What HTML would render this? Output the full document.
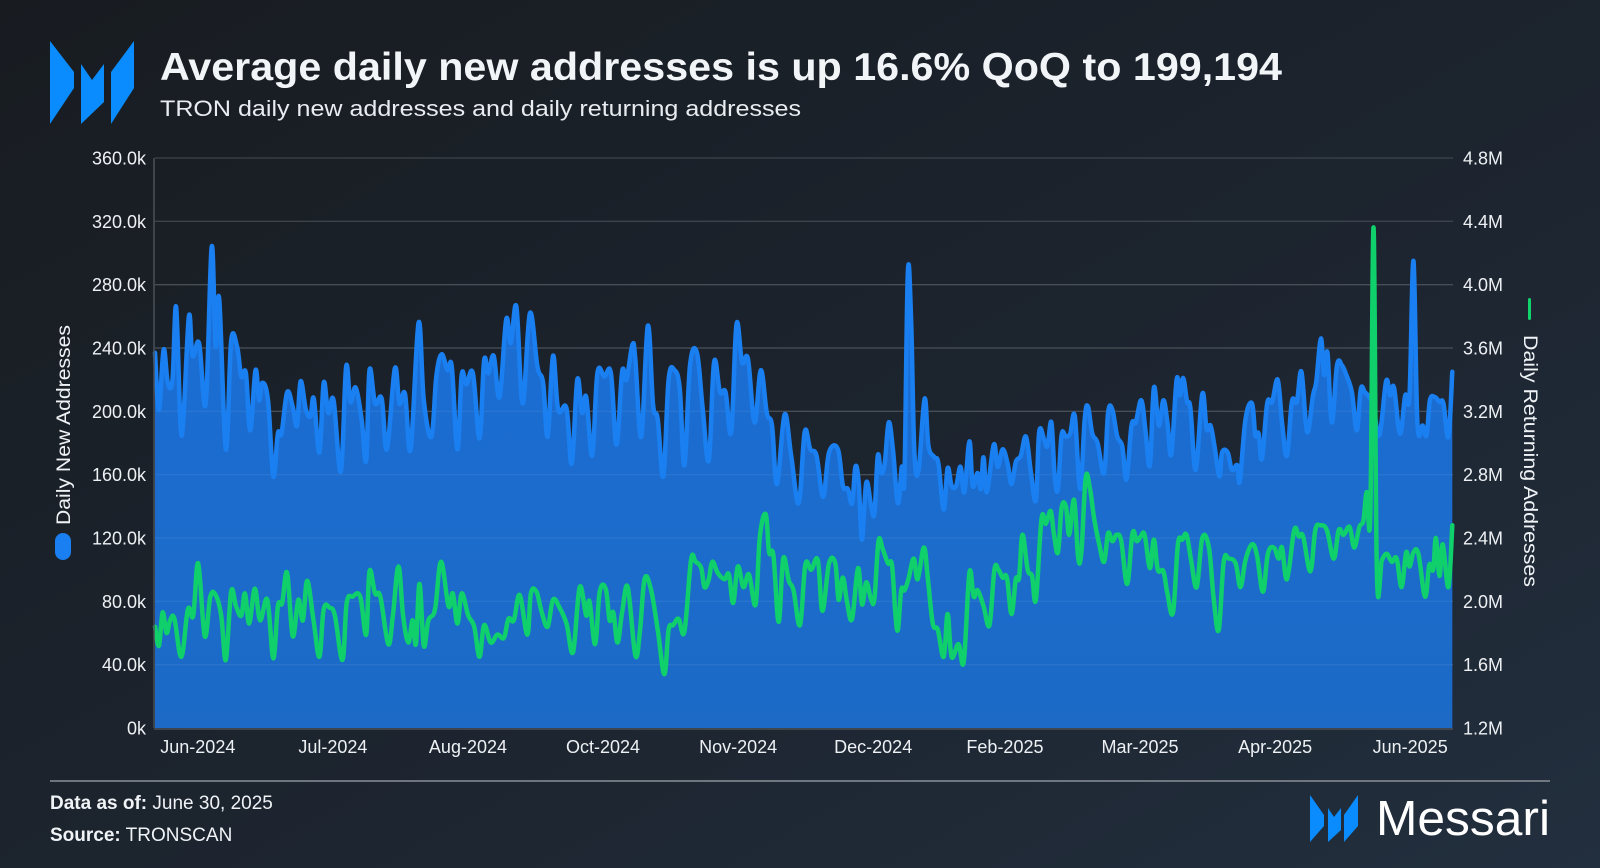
<!DOCTYPE html>
<html><head><meta charset="utf-8"><style>
html,body{margin:0;padding:0;width:1600px;height:868px;overflow:hidden;background:#1a1e24}
svg{display:block}
text{font-family:"Liberation Sans",sans-serif}
</style></head><body>
<svg id="chart" width="1600" height="868" viewBox="0 0 1600 868" xmlns="http://www.w3.org/2000/svg">
<defs>
<linearGradient id="bg" x1="0" y1="0" x2="1" y2="1"><stop offset="0" stop-color="#181c21"/><stop offset="0.6" stop-color="#1d2530"/><stop offset="1" stop-color="#222f3e"/></linearGradient>
<linearGradient id="fillg" x1="0" y1="0" x2="0" y2="1"><stop offset="0" stop-color="#1b6ed6"/><stop offset="1" stop-color="#1c6ac6"/></linearGradient>
</defs>
<rect width="1600" height="868" fill="url(#bg)"/>
<g fill="#0a8cff">
<polygon points="50,41 74,72 74,88 50,124"/>
<polygon points="81,64 92,80 104,64 104,102 81,124"/>
<polygon points="134,41 134,88 111,124 111,72"/>
</g>
<text x="160" y="80" font-size="39" font-weight="bold" fill="#f2f5f8" textLength="1122" lengthAdjust="spacingAndGlyphs">Average daily new addresses is up 16.6% QoQ to 199,194</text>
<text x="160" y="116" font-size="22.5" fill="#e8ecf0" textLength="641" lengthAdjust="spacingAndGlyphs">TRON daily new addresses and daily returning addresses</text>
<g id="grid"></g>
<g id="plot"></g>
<g id="axes"></g>
<g>
<text transform="translate(70,425) rotate(-90)" text-anchor="middle" font-size="19" fill="#f0f3f6" textLength="200" lengthAdjust="spacingAndGlyphs">Daily New Addresses</text>
<rect x="55" y="533" width="16" height="27" rx="8" fill="#1a7ff0"/>
</g>
<g>
<rect x="1528" y="298" width="3" height="22" rx="1.5" fill="#11d36b"/>
<text transform="translate(1524,461) rotate(90)" text-anchor="middle" font-size="19" fill="#f0f3f6" textLength="252" lengthAdjust="spacingAndGlyphs">Daily Returning Addresses</text>
</g>
<line x1="50" y1="781" x2="1550" y2="781" stroke="#8a9098" stroke-width="1.5"/>
<text x="50" y="809" font-size="19" fill="#f0f3f6"><tspan font-weight="bold">Data as of:</tspan> June 30, 2025</text>
<text x="50" y="841" font-size="19" fill="#f0f3f6"><tspan font-weight="bold">Source:</tspan> TRONSCAN</text>
<g>
<g fill="#0a8cff">
<polygon points="1310,795 1324,815 1324,826 1310,842"/>
<polygon points="1328,808 1334,817 1341,808 1341,830 1328,842"/>
<polygon points="1358,795 1358,826 1344,842 1344,815"/>
</g>
<text x="1376" y="835" font-size="49" fill="#ffffff" textLength="174" lengthAdjust="spacingAndGlyphs">Messari</text>
</g>
</svg>
<script>
const blueDays=[0,1.2,2.6,3.9,5.3,6.4,7.7,8.6,10.3,11.4,13.4,15.4,17.2,18.4,19.5,21.5,23.1,24.9,26.2,27.6,28.9,30.5,31.6,32.6,34.3,35.9,37.3,38.4,40.1,41.8,43.1,44.2,45.8,47.2,48.2,49.9,51.2,52.6,54.2,56.4,58,59.3,60.9,62.7,64.1,65.1,66.8,68.8,70.4,72.8,74.2,75.9,77.6,80,81.6,83.9,85.4,87,88.8,90.1,91.8,93.1,94.5,96.5,98.5,99.9,101.2,102.8,104.6,106.6,108,109.7,111.6,113.8,116.1,117.8,119.2,120.8,122.4,124.9,126.5,128.2,129.6,130.9,132.7,134.3,136.4,138.4,140.1,141.8,143.1,144.9,145.8,147.6,149.6,151.2,152.6,154.3,155.9,157.7,159.3,160.7,162.4,164.5,166.2,168.1,169.7,171.5,173.2,174.9,176.5,178.2,180,182,183.9,185.7,187.3,188.8,191.1,193.1,195.4,197.2,198.9,200.8,202.8,204.6,
207.3,208.8,210.3,211.6,212.6,213.6,214.6,215.9,217.4,218.4,219.4,220.4,221.5,222.7,224,225.5,226.7,227.5,228.5,229.5,230.5,231.8,233.6,234.8,236.6,237.8,239.4,240.6,241.8,243.2,244.5,245.7,247.2,248.2,249.7,250.7,251.5,252.5,254.6,255.8,257.3,258.8,260,261.3,262.8,264.4,265.9,267.4,268.4,269.9,270.9,272.1,273.1,274.1,275.2,276.5,277.8,279.2,280.8,282.2,283.2,284.5,286.1,288.1,289.3,290.6,292.1,293.6,294.9,296.4,297.7,
299.4,300.7,302,303.2,304.7,306.1,307.3,308.5,310.1,311.1,312.1,313.3,314.3,315.9,317.9,319.2,320.4,321.6,323.1,323.9,325.6,326.9,328.5,329.3,331,333,334,335,336,337.6,339.1,340.8,342.1,343.6,345.1,346.6,348,349.7,351.5,352.5,353.9,354.9,355.9,357.2,358.8,360.3,361.6,363.3,364.8,366,367.3,368.9,369.9,371.7,373.7,374.9,376.1,377.9,379.5,380.8,382,383.2,384.8,386,387,388.5,389.9,391.1,392.6,393.8];
const blueValues=[237,201,239,218,220,266,193,195,260,235,243,205,304,241,271,176,244,241,222,224,188,226,207,218,207,159,186,186,212,203,191,219,201,197,208,174,218,199,207,162,228,206,215,195,169,226,205,208,176,227,205,211,176,256,207,184,222,236,226,228,176,223,217,224,183,232,224,235,209,258,243,266,205,262,228,218,184,235,201,202,167,220,199,209,172,224,222,224,179,225,220,242,233,184,254,204,195,159,220,226,214,166,229,237,203,169,231,212,212,187,255,231,233,193,226,199,191,154,198,172,142,187,176,172,146,174,
176,153,151,142,165,155,119,155,140,136,172,161,167,193,176,142,165,159,287,258,174,163,208,178,171,167,138,164,153,153,165,149,181,153,161,151,171,149,179,165,176,167,154,168,172,184,161,144,187,182,178,193,159,151,185,184,186,197,151,195,203,186,180,161,199,201,184,178,157,191,193,
207,187,166,215,191,207,193,173,220,210,221,206,202,163,211,189,191,178,159,174,174,163,166,156,195,205,185,186,170,205,206,220,193,172,206,206,225,187,210,219,246,223,237,193,229,229,223,212,188,214,212,208,202,185,219,210,215,186,210,210,295,193,191,185,207,209,206,205,184,225];
const greenDays=[0,1.2,2.3,3.5,4.6,5.9,8,10,11.6,13.1,15.1,16.8,18.4,20.1,21.5,23.1,24.6,26.2,27.3,28.6,30.3,31.9,34.1,35.9,37.3,38.6,40.1,41.8,43.5,44.9,46.2,48.1,49.9,51.2,53,54.6,56.9,58.2,60,62.3,64.1,65.1,66.8,68.4,70.8,72.2,73.9,75.3,76.9,78.2,79.2,80.3,81.6,83,85,86.8,89.1,90.4,91.8,93.1,95.1,96.9,98.5,99.9,101.9,103.9,105.9,107.3,108.9,110.7,113,114.1,115.8,117.4,119.2,120.8,122.8,124.9,126.9,128.9,130.9,131.9,133.6,135,136.8,138,139.1,140.4,141.8,143.5,145.8,147.2,148.6,150.5,152.6,154.6,155.9,157.3,158.9,160.7,162.7,164.1,165.8,166.8,168.1,169.2,170.8,172.8,174.2,175.5,176.9,178.6,180.3,182.3,183.6,185.4,186.4,187.7,189.3,190.7,192.4,193.8,195.8,197.4,199.2,201.2,202.6,204.6,
206.5,207.5,208.8,210.1,211.6,213.4,214.6,215.9,217.4,218.4,219.6,220.9,222.5,223.7,224.7,225.5,226.5,227.5,228.7,230.3,231.5,233.4,234.6,236.1,237.6,239.4,240.6,241.8,243.9,245.5,247.2,248.5,249.7,251.5,253.3,254.8,256,257.3,258.6,260,261.3,262.3,263.3,264.9,266.2,267.4,269.1,270.4,271.9,272.9,274.1,275.2,276.5,277.5,279,280.2,281.2,282.5,283.8,285.1,286.6,288.1,289.3,290.6,291.9,293.3,295.1,296.7,298,
299.2,300.4,302,303.2,304.4,306.1,307.3,309,310.5,311.8,313.1,314.5,316.2,317.9,319.9,321.4,322.9,324.4,325.9,328,329.5,331,333,334.5,336.3,337.8,339.6,341.1,342.1,343.6,345.8,347.2,348.5,350.7,352.2,353.7,355.7,357.8,359.3,360.8,362.6,364,365.6,366.8,367.8,368.9,369.9,370.9,372.4,373.9,375.4,376.9,378.4,379.8,380.8,382,383.5,385.5,386.8,388,388.8,389.9,390.9,392.6,393.8];
const greenValues=[1.84,1.72,1.93,1.80,1.88,1.89,1.65,1.95,1.91,2.24,1.78,2.03,2.04,1.91,1.63,2.06,1.97,1.91,2.05,1.86,2.08,1.88,2.01,1.64,1.97,1.99,2.18,1.78,2.01,1.88,2.13,1.88,1.65,1.95,1.96,1.91,1.63,1.99,2.03,2.03,1.79,2.19,2.05,2.03,1.73,1.91,2.22,1.91,1.74,1.88,1.73,2.11,1.72,1.88,1.95,2.25,1.97,2.05,1.86,2.05,1.91,1.84,1.65,1.85,1.74,1.79,1.77,1.89,1.88,2.04,1.79,2.05,2.06,1.93,1.84,2.01,1.96,1.86,1.68,2.09,1.91,2.00,1.73,2.06,2.08,1.88,1.93,1.74,1.93,2.09,1.66,1.81,2.14,2.08,1.82,1.54,1.82,1.85,1.89,1.81,2.26,2.25,2.21,2.09,2.14,2.25,2.18,2.14,2.17,1.99,2.22,2.09,2.17,1.98,2.41,2.55,2.31,2.29,1.87,2.27,2.13,2.07,1.85,2.23,2.20,2.26,1.94,2.24,
2.24,2.01,2.15,1.99,1.89,2.21,1.98,2.12,2.01,2.02,2.38,2.33,2.24,2.23,1.93,1.82,2.07,2.07,2.14,2.27,2.14,2.34,2.14,1.86,1.82,1.65,1.92,1.65,1.73,1.62,2.18,2.03,2.07,1.97,1.85,2.20,2.20,2.15,2.15,1.92,2.14,2.15,2.42,2.20,2.16,2.01,2.52,2.49,2.57,2.42,2.31,2.59,2.60,2.42,2.64,2.28,2.31,2.78,2.71,2.52,2.36,2.25,2.43,2.38,2.42,2.38,2.11,2.43,2.38,
2.41,2.42,2.21,2.39,2.20,2.19,2.05,1.93,2.36,2.39,2.42,2.26,2.09,2.40,2.34,2.01,1.82,2.25,2.27,2.24,2.09,2.26,2.36,2.29,2.06,2.30,2.34,2.27,2.34,2.14,2.45,2.41,2.41,2.19,2.45,2.48,2.45,2.27,2.45,2.42,2.47,2.34,2.47,2.51,2.69,2.55,4.36,2.18,2.26,2.30,2.25,2.27,2.09,2.31,2.22,2.31,2.30,2.03,2.23,2.20,2.40,2.16,2.36,2.09,2.48];
const leftTicks=[0,40,80,120,160,200,240,280,320,360];
const leftTickLabels=["0k","40.0k","80.0k","120.0k","160.0k","200.0k","240.0k","280.0k","320.0k","360.0k"];
const rightTicks=[1.2,1.6,2.0,2.4,2.8,3.2,3.6,4.0,4.4,4.8];
const rightTickLabels=["1.2M","1.6M","2.0M","2.4M","2.8M","3.2M","3.6M","4.0M","4.4M","4.8M"];
const xTickDays=[13,54,95,136,177,218,258,299,340,381];
const xTickLabels=["Jun-2024","Jul-2024","Aug-2024","Oct-2024","Nov-2024","Dec-2024","Feb-2025","Mar-2025","Apr-2025","Jun-2025"];

const NS="http://www.w3.org/2000/svg";
const X0=155,X1=1453,Y0=728,Y1=158,DMAX=394;
function xs(d){return X0+(d/DMAX)*(X1-X0);}
function yl(k){return Y0-(k/360)*(Y0-Y1);}
function yr(m){return Y0-((m-1.2)/3.6)*(Y0-Y1);}
function mk(tag,attrs,parent){const e=document.createElementNS(NS,tag);for(const k in attrs)e.setAttribute(k,attrs[k]);parent.appendChild(e);return e;}
function smooth(pts){
  let d='M'+pts[0][0].toFixed(1)+','+pts[0][1].toFixed(1);
  for(let i=0;i<pts.length-1;i++){
    const p0=pts[Math.max(0,i-1)],p1=pts[i],p2=pts[i+1],p3=pts[Math.min(pts.length-1,i+2)];
    const t=0.18;
    const c1x=p1[0]+(p2[0]-p0[0])*t,c1y=p1[1]+(p2[1]-p0[1])*t;
    const c2x=p2[0]-(p3[0]-p1[0])*t,c2y=p2[1]-(p3[1]-p1[1])*t;
    d+=' C'+c1x.toFixed(1)+','+c1y.toFixed(1)+' '+c2x.toFixed(1)+','+c2y.toFixed(1)+' '+p2[0].toFixed(1)+','+p2[1].toFixed(1);
  }
  return d;
}
const grid=document.getElementById('grid'),plot=document.getElementById('plot'),axes=document.getElementById('axes');

leftTicks.forEach((t,i)=>{
  if(i>0){const g=mk('line',{x1:X0,x2:X1,y1:yl(t),y2:yl(t),stroke:'#3c434c','stroke-width':1.3},grid);
  
  }
  const lb=mk('text',{x:146,y:yl(t)+6.5,'text-anchor':'end','font-size':18,fill:'#eef1f4'},axes);
  lb.textContent=leftTickLabels[i];
  
  
});
rightTicks.forEach((t,i)=>{
  const lb=mk('text',{x:1463,y:yr(t)+6.5,'font-size':18,fill:'#eef1f4'},axes);
  lb.textContent=rightTickLabels[i];
  
  
});
xTickDays.forEach((d,i)=>{
  const lb=mk('text',{x:xs(d),y:753,'text-anchor':'middle','font-size':18,fill:'#eef1f4'},axes);
  lb.textContent=xTickLabels[i];
  
  
});

const bpts=blueDays.map((d,i)=>[xs(d),yl(blueValues[i])]);
const bd=smooth(bpts);
const area=mk('path',{d:bd+' L'+xs(blueDays[blueDays.length-1])+','+Y0+' L'+xs(blueDays[0])+','+Y0+' Z',fill:'url(#fillg)'},plot);


leftTicks.forEach((t,i)=>{ if(i>0&&i<8){const g=mk('line',{x1:X0,x2:X1,y1:yl(t),y2:yl(t),stroke:'rgba(255,255,255,0.07)','stroke-width':1.2},plot);
  
  }});
const bl=mk('path',{d:bd,fill:'none',stroke:'#1a80f2','stroke-width':4.5,'stroke-linejoin':'round','stroke-linecap':'round'},plot);


const gpts=greenDays.map((d,i)=>[xs(d),yr(greenValues[i])]);
const gl=mk('path',{d:smooth(gpts),fill:'none',stroke:'#0fd06a','stroke-width':4.5,'stroke-linejoin':'round','stroke-linecap':'round'},plot);


const ax=mk('line',{x1:X0-1,x2:X0-1,y1:Y1,y2:Y0,stroke:'#4a5058','stroke-width':1.5},axes);


const bx=mk('line',{x1:X0-1,x2:X1,y1:Y0+1,y2:Y0+1,stroke:'#4a5058','stroke-width':1.5},axes);


</script>
</body></html>
